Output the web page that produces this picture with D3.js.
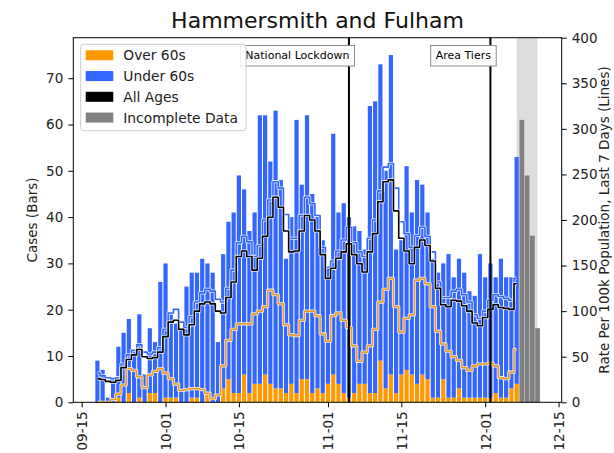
<!DOCTYPE html>
<html>
<head>
<meta charset="utf-8">
<script src="https://d3js.org/d3.v7.min.js"></script>
<style>
  body { margin: 0; background: #fff; }
  svg { display: block; font-family: "DejaVu Sans", sans-serif; }
</style>
</head>
<body>
<div id="chart"></div>
<script>
// daily cases from 18 Sep 2020 (one value per day, last complete day 7 Dec)
var first_day = new Date(Date.UTC(2020, 8, 18));

var over_60s = [0, 0, 0, 0, 1, 0, 2, 0, 1, 0,
  2, 2, 0, 1, 1, 1, 0, 0, 1, 1,
  0, 2, 0, 0, 3, 5, 2, 2, 6, 2,
  4, 4, 6, 4, 3, 3, 2, 4, 2, 5,
  5, 2, 3, 2, 4, 6, 4, 2, 1, 2,
  4, 4, 2, 2, 9, 3, 6, 2, 6, 7,
  6, 4, 6, 5, 1, 1, 5, 1, 1, 3,
  1, 1, 1, 1, 1, 1, 2, 1, 1, 3,
  4];

var under_60s = [9, 7, 1, 5, 11, 15, 16, 11, 18, 6,
  14, 11, 26, 29, 18, 16, 16, 25, 27, 27,
  31, 28, 28, 13, 29, 34, 39, 47, 40, 35,
  37, 58, 56, 48, 60, 45, 29, 36, 59, 42,
  57, 43, 37, 33, 25, 52, 37, 41, 39, 36,
  33, 29, 62, 63, 64, 47, 69, 31, 29, 44,
  35, 44, 41, 36, 30, 27, 25, 31, 26, 28,
  27, 23, 22, 31, 26, 29, 25, 30, 26, 24,
  49];

// 8 - 11 Dec, still being reported
var incomplete_cases = [61, 49, 36, 16];

// rate per 100k, last 7 days
var rate_all = [26, 25, 23, 22, 24, 38, 47, 52, 58, 50,
  48, 49, 55, 72, 88, 90, 80, 74, 85, 100,
  108, 110, 108, 100, 98, 115, 132, 160, 166, 160,
  145, 158, 182, 203, 225, 214, 188, 165, 166, 188,
  205, 200, 188, 162, 136, 147, 158, 165, 174, 162,
  152, 143, 165, 185, 220, 242, 244, 210, 180, 166,
  152, 170, 178, 172, 155, 125, 107, 105, 112, 111,
  106, 100, 87, 84, 93, 102, 107, 104, 103, 102,
  130];

var rate_under_60s = [32, 29, 27, 26, 27, 42, 52, 57, 63, 55,
  53, 55, 60, 80, 98, 102, 88, 82, 94, 110,
  120, 124, 122, 113, 110, 125, 145, 175, 182, 176,
  160, 172, 200, 222, 242, 235, 206, 180, 180, 205,
  225, 218, 205, 170, 148, 155, 166, 178, 192, 175,
  165, 160, 180, 200, 232, 258, 262, 235, 198, 185,
  170, 183, 192, 182, 165, 132, 115, 115, 122, 124,
  118, 110, 96, 92, 100, 112, 118, 116, 114, 112,
  136];

var rate_over_60s = [0, 0, 0, 3, 9, 19, 37, 35, 28, 16,
  30, 34, 37, 32, 26, 20, 13, 14, 15, 15,
  14, 10, 4, 8, 40, 68, 80, 86, 86, 86,
  97, 100, 105, 123, 118, 108, 85, 74, 73, 90,
  100, 100, 95, 75, 67, 95, 98, 90, 82, 62,
  45, 55, 62, 80, 110, 124, 136, 105, 77, 92,
  96, 134, 136, 130, 105, 78, 64, 56, 50, 46,
  38, 35, 40, 42, 42, 43, 40, 27, 26, 33,
  58];

var event_labels = ['National Lockdown', 'Area Tiers'];
var event_dates = [new Date(Date.UTC(2020, 10, 5)), new Date(Date.UTC(2020, 11, 2))];

var x_ticks = [[8, 15], [9, 1], [9, 15], [10, 1], [10, 15], [11, 1], [11, 15]].map(function(d) {
  return new Date(Date.UTC(2020, d[0], d[1]));
});
var cases_ticks = [0, 10, 20, 30, 40, 50, 60, 70];
var rate_ticks = [0, 50, 100, 150, 200, 250, 300, 350, 400];

var legend_labels = ['Over 60s', 'Under 60s', 'All Ages', 'Incomplete Data'];

// ---------------------------------------------------------------
var width = 614;
var height = 453;
var plot = { left: 73.3, right: 561.7, top: 37.7, bottom: 402.3 };

var c_orange = '#ff9900';
var c_blue = '#3366ff';
var c_grey = '#808080';
var legend_colors = [c_orange, c_blue, '#000', c_grey];

var svg = d3.select('#chart')
  .append('svg')
  .attr('width', width)
  .attr('height', height);

var days = d3.utcDay.range(first_day, d3.utcDay.offset(first_day, over_60s.length));
var last_complete = days[days.length - 1];
var incomplete_days = d3.utcDay.range(d3.utcDay.offset(last_complete, 1),
  d3.utcDay.offset(last_complete, incomplete_cases.length + 1));
var last_day = incomplete_days[incomplete_days.length - 1];

var day_ms = 864e5;
var x_scale = d3.scaleTime()
  .domain([new Date(+first_day - 4.6 * day_ms), new Date(+last_day + 4.6 * day_ms)])
  .range([plot.left, plot.right]);

var y_cases = d3.scaleLinear()
  .domain([0, 78.75])
  .range([plot.bottom, plot.top]);

var y_rate = d3.scaleLinear()
  .domain([0, 400])
  .range([plot.bottom, plot.top]);

var day_px = x_scale(days[1]) - x_scale(days[0]);
var bar_w = day_px * 0.8;

// incomplete data shading
svg.append('rect')
  .attr('x', x_scale(last_complete))
  .attr('y', plot.top)
  .attr('width', x_scale(last_day) - x_scale(last_complete))
  .attr('height', plot.bottom - plot.top)
  .attr('fill', '#dddddd');

// stacked bars
var table = days.map(function(d, i) {
  return { date: d, over: over_60s[i], under: under_60s[i] };
});
var stacked = d3.stack().keys(['over', 'under'])(table);

svg.selectAll('g.series')
  .data(stacked)
  .enter()
  .append('g')
  .attr('fill', function(d, i) { return i == 0 ? c_orange : c_blue; })
  .selectAll('rect')
  .data(function(d) { return d; })
  .enter()
  .append('rect')
  .attr('x', function(d) { return x_scale(d.data.date) - bar_w / 2; })
  .attr('y', function(d) { return y_cases(d[1]); })
  .attr('width', bar_w)
  .attr('height', function(d) { return y_cases(d[0]) - y_cases(d[1]); });

svg.append('g')
  .selectAll('rect')
  .data(incomplete_cases)
  .enter()
  .append('rect')
  .attr('x', function(d, i) { return x_scale(incomplete_days[i]) - day_px * 0.45; })
  .attr('y', function(d) { return y_cases(d); })
  .attr('width', day_px * 0.9)
  .attr('height', function(d) { return plot.bottom - y_cases(d); })
  .attr('fill', c_grey);

// rate lines, thin white halo underneath like the original
var line = d3.line()
  .x(function(d, i) { return x_scale(days[i]); })
  .y(function(d) { return y_rate(d); })
  .curve(d3.curveStep);

[[rate_over_60s, '#ee9a22'], [rate_under_60s, c_blue], [rate_all, '#000']].forEach(function(s) {
  svg.append('path')
    .attr('d', line(s[0]))
    .attr('fill', 'none')
    .attr('stroke', '#fff')
    .attr('stroke-opacity', 0.85)
    .attr('stroke-width', 3.2)
    .attr('stroke-linejoin', 'round');
  svg.append('path')
    .attr('d', line(s[0]))
    .attr('fill', 'none')
    .attr('stroke', s[1])
    .attr('stroke-width', 1.6)
    .attr('stroke-linejoin', 'round');
});

// event markers
event_dates.forEach(function(d, i) {
  var ex = x_scale(d);
  svg.append('line')
    .attr('x1', ex).attr('x2', ex)
    .attr('y1', plot.top).attr('y2', plot.bottom)
    .attr('stroke', '#000')
    .attr('stroke-width', 2);
  var g = svg.append('g');
  var box = g.append('rect');
  var t = g.append('text')
    .attr('x', ex + 0.5)
    .attr('y', 58.5)
    .attr('text-anchor', 'end')
    .attr('font-size', 11)
    .attr('fill', '#000')
    .text(event_labels[i]);
  var bb = t.node().getBBox();
  box.attr('x', bb.x - 5)
    .attr('y', 45.5)
    .attr('width', bb.width + 10)
    .attr('height', 20.5)
    .attr('fill', '#fff')
    .attr('stroke', '#8c8c8c')
    .attr('stroke-width', 1);
});

// axes
var x_axis = d3.axisBottom(x_scale)
  .tickValues(x_ticks)
  .tickFormat(d3.utcFormat('%m-%d'))
  .tickSize(5)
  .tickSizeOuter(0);

var gx = svg.append('g')
  .attr('transform', 'translate(0,' + plot.bottom + ')')
  .call(x_axis);
gx.selectAll('text')
  .attr('transform', 'rotate(-90)')
  .attr('text-anchor', 'end')
  .attr('x', -9)
  .attr('y', 0)
  .attr('dy', '0.36em');

var gl = svg.append('g')
  .attr('transform', 'translate(' + plot.left + ',0)')
  .call(d3.axisLeft(y_cases).tickValues(cases_ticks).tickSize(5).tickSizeOuter(0).tickPadding(5));

var gr = svg.append('g')
  .attr('transform', 'translate(' + plot.right + ',0)')
  .call(d3.axisRight(y_rate).tickValues(rate_ticks).tickSize(5).tickSizeOuter(0).tickPadding(5));

[gx, gl, gr].forEach(function(g) {
  g.select('.domain').remove();
  g.selectAll('text')
    .attr('font-family', '"DejaVu Sans", sans-serif')
    .attr('font-size', 13.5)
    .attr('fill', '#222');
  g.selectAll('line').attr('stroke', '#000').attr('stroke-width', 1);
});

// spines
svg.append('rect')
  .attr('x', plot.left)
  .attr('y', plot.top)
  .attr('width', plot.right - plot.left)
  .attr('height', plot.bottom - plot.top)
  .attr('fill', 'none')
  .attr('stroke', '#000')
  .attr('stroke-width', 1);

// labels
svg.append('text')
  .attr('x', (plot.left + plot.right) / 2)
  .attr('y', 28.3)
  .attr('text-anchor', 'middle')
  .attr('font-size', 22)
  .attr('fill', '#111')
  .text('Hammersmith and Fulham');

svg.append('text')
  .attr('transform', 'translate(37,' + (plot.top + plot.bottom) / 2 + ') rotate(-90)')
  .attr('text-anchor', 'middle')
  .attr('font-size', 13.5)
  .attr('fill', '#222')
  .text('Cases (Bars)');

svg.append('text')
  .attr('transform', 'translate(609,' + (plot.top + plot.bottom) / 2 + ') rotate(-90)')
  .attr('text-anchor', 'middle')
  .attr('font-size', 13.5)
  .attr('fill', '#222')
  .text('Rate Per 100k Population, Last 7 Days (Lines)');

// legend
var legend = svg.append('g');
legend.append('rect')
  .attr('x', 80.7)
  .attr('y', 44.3)
  .attr('width', 165.3)
  .attr('height', 86.4)
  .attr('rx', 3)
  .attr('fill', '#fff')
  .attr('fill-opacity', 0.8)
  .attr('stroke', '#cccccc')
  .attr('stroke-width', 1);

var rows = legend.selectAll('g.row')
  .data(legend_labels)
  .enter()
  .append('g')
  .attr('transform', function(d, i) { return 'translate(0,' + (55.3 + i * 20.75) + ')'; });

rows.append('rect')
  .attr('x', 85.7)
  .attr('y', -5)
  .attr('width', 27.6)
  .attr('height', 10)
  .attr('fill', function(d, i) { return legend_colors[i]; });

rows.append('text')
  .attr('x', 123.3)
  .attr('y', 5)
  .attr('font-size', 13.8)
  .attr('fill', '#222')
  .text(function(d) { return d; });
</script>
</body>
</html>
